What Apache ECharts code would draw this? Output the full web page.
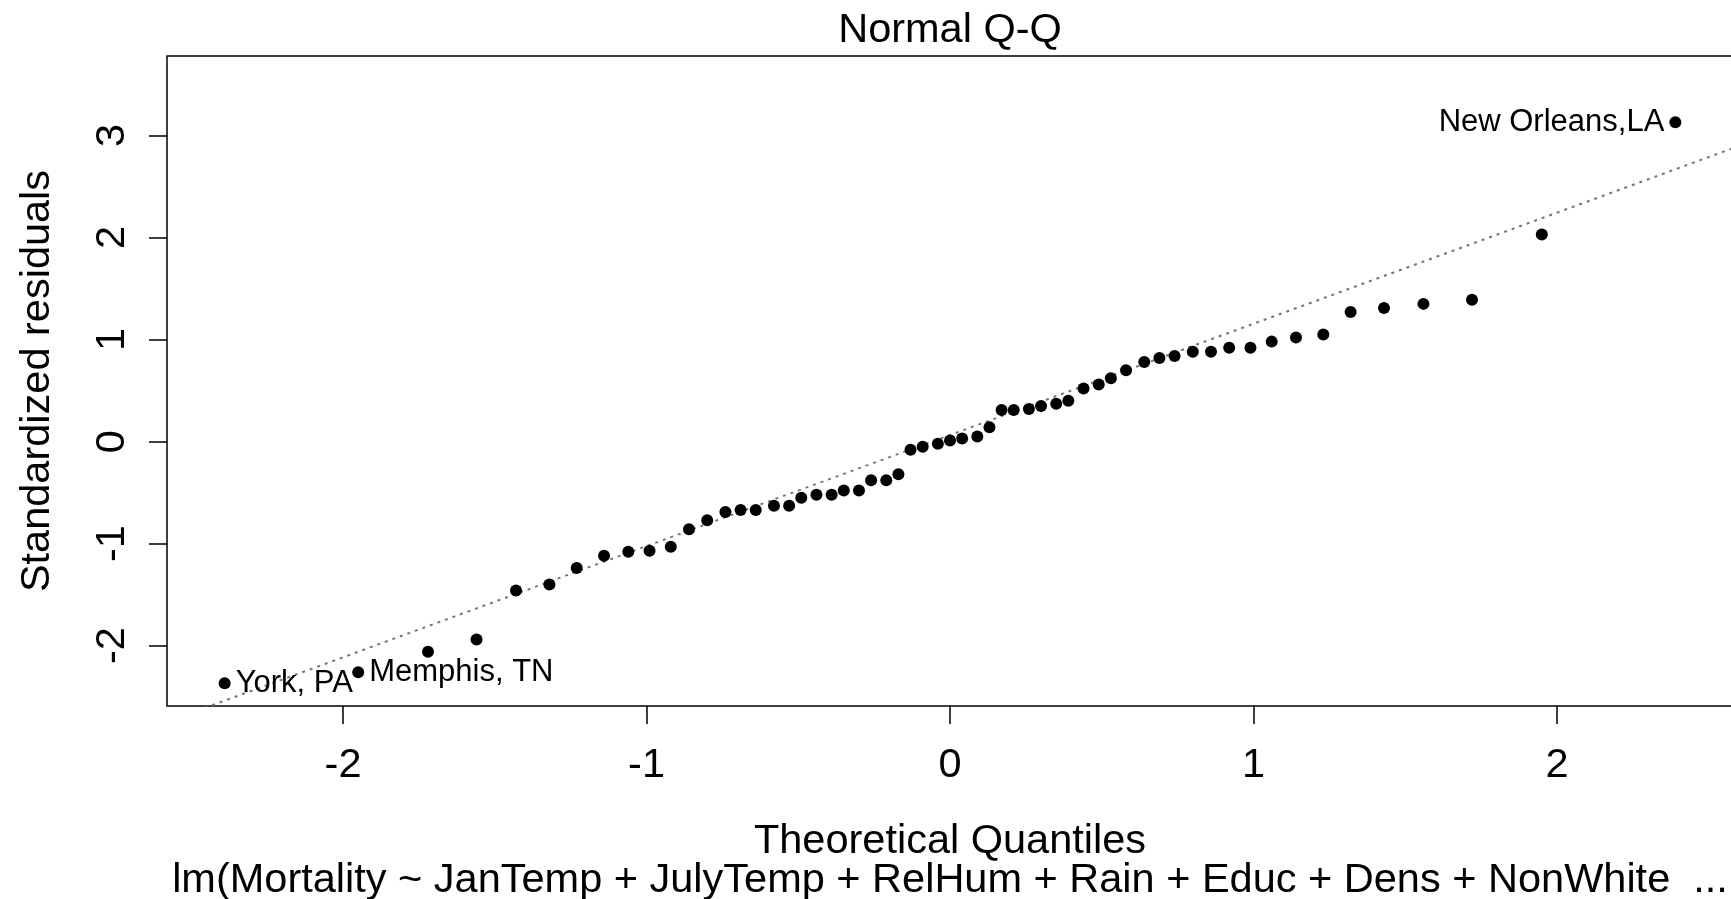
<!DOCTYPE html>
<html>
<head>
<meta charset="utf-8">
<title>Normal Q-Q</title>
<script src="https://cdn.jsdelivr.net/npm/echarts@6/dist/echarts.min.js"></script>
<style>
  html, body { margin: 0; padding: 0; background: #fff; }
  #chart { width: 1731px; height: 899px; }
</style>
</head>
<body>
<div id="chart"></div>
<script>
// Theoretical normal quantiles (x) and sorted standardized residuals (y), 59 cities
const theoQuantiles = [
  -2.39, -1.95, -1.72, -1.56, -1.43, -1.32, -1.23, -1.14, -1.06, -0.99,
  -0.92, -0.86, -0.80, -0.74, -0.69, -0.64, -0.58, -0.53, -0.49, -0.44,
  -0.39, -0.35, -0.30, -0.26, -0.21, -0.17, -0.13, -0.09, -0.04, 0.00,
   0.04,  0.09,  0.13,  0.17,  0.21,  0.26,  0.30,  0.35,  0.39,  0.44,
   0.49,  0.53,  0.58,  0.64,  0.69,  0.74,  0.80,  0.86,  0.92,  0.99,
   1.06,  1.14,  1.23,  1.32,  1.43,  1.56,  1.72,  1.95,  2.39
];
const stdResiduals = [
  -2.37, -2.26, -2.06, -1.94, -1.46, -1.40, -1.24, -1.12, -1.08, -1.07,
  -1.03, -0.86, -0.77, -0.69, -0.67, -0.67, -0.63, -0.63, -0.55, -0.52,
  -0.52, -0.48, -0.48, -0.38, -0.38, -0.32, -0.08, -0.05, -0.02,  0.01,
   0.03,  0.05,  0.14,  0.31,  0.31,  0.32,  0.35,  0.37,  0.40,  0.52,
   0.56,  0.62,  0.70,  0.78,  0.82,  0.84,  0.88,  0.88,  0.92,  0.92,
   0.98,  1.02,  1.05,  1.27,  1.31,  1.35,  1.39,  2.03,  3.13
];
// Identified extreme observations
const labelIndex = [0, 1, 58];
const labelText = ['York, PA', 'Memphis, TN', 'New Orleans,LA'];

const xTicks = [-2, -1, 0, 1, 2];
const yTicks = [-2, -1, 0, 1, 2, 3];
const xRange = [-2.58, 2.58];
const yRange = [-2.592, 3.78];

const mainTitle = 'Normal Q-Q';
const xName = 'Theoretical Quantiles';
const yName = 'Standardized residuals';
const subCaption = 'lm(Mortality ~ JanTemp + JulyTemp + RelHum + Rain + Educ + Dens + NonWhite  ...';

// Reference line through the first and third quartiles (qqline)
function quantile7(sorted, p) {
  const h = (sorted.length - 1) * p;
  const lo = Math.floor(h);
  const hi = Math.min(lo + 1, sorted.length - 1);
  return sorted[lo] + (h - lo) * (sorted[hi] - sorted[lo]);
}
const zq = 0.6744898; // standard normal upper quartile
const sorted = stdResiduals.slice().sort((a, b) => a - b);
const q1 = quantile7(sorted, 0.25), q3 = quantile7(sorted, 0.75);
const slope = (q3 - q1) / (2 * zq);
const intercept = q1 + slope * zq;
const qqLineData = [
  [xRange[0], intercept + slope * xRange[0]],
  [xRange[1], intercept + slope * xRange[1]]
];

const FONT = "'Liberation Sans', Arial, Helvetica, sans-serif";
const BASE = 41.5;

const points = theoQuantiles.map((x, i) => {
  const k = labelIndex.indexOf(i);
  const item = { value: [x, stdResiduals[i]] };
  if (k >= 0) {
    item.label = {
      show: true,
      formatter: labelText[k],
      position: x > 0 ? 'left' : 'right'
    };
  }
  return item;
});

const grid = { left: 167, top: 56, width: 1566, height: 650 };
const plotCenterX = grid.left + (1731 - grid.left) / 2 + 1;

const chart = echarts.init(document.getElementById('chart'));
chart.setOption({
  animation: false,
  backgroundColor: '#fff',
  textStyle: { fontFamily: FONT, color: '#000' },
  grid: Object.assign({
    show: true,
    borderColor: '#000',
    borderWidth: 1.5,
    backgroundColor: 'transparent',
    containLabel: false,
    outerBoundsMode: 'none'
  }, grid),
  xAxis: {
    type: 'value',
    min: xRange[0],
    max: xRange[1],
    name: xName,
    nameLocation: 'middle',
    nameGap: 115,
    nameTextStyle: { fontSize: BASE, fontFamily: FONT, color: '#000' },
    axisLine: { show: false, onZero: false },
    axisTick: {
      show: true, length: 18, inside: false,
      customValues: xTicks,
      lineStyle: { color: '#000', width: 1.5 }
    },
    axisLabel: {
      show: true, margin: 39, fontSize: BASE, fontFamily: FONT, color: '#000',
      customValues: xTicks,
      formatter: v => String(v)
    },
    splitLine: { show: false }
  },
  yAxis: {
    type: 'value',
    min: yRange[0],
    max: yRange[1],
    name: yName,
    nameLocation: 'middle',
    nameGap: 108,
    nameRotate: 90,
    nameTextStyle: { fontSize: BASE, fontFamily: FONT, color: '#000' },
    axisLine: { show: false, onZero: false },
    axisTick: {
      show: true, length: 18, inside: false,
      customValues: yTicks,
      lineStyle: { color: '#000', width: 1.5 }
    },
    axisLabel: {
      show: true, rotate: 90, margin: 33, fontSize: BASE, fontFamily: FONT, color: '#000',
      customValues: yTicks,
      formatter: v => String(v)
    },
    splitLine: { show: false }
  },
  graphic: [
    {
      type: 'text', x: plotCenterX, y: 10, silent: true,
      style: {
        text: mainTitle, fontSize: BASE, fontFamily: FONT, fill: '#000',
        align: 'center', verticalAlign: 'top'
      }
    },
    {
      type: 'text', x: plotCenterX, y: 860, silent: true,
      style: {
        text: subCaption, fontSize: BASE, fontFamily: FONT, fill: '#000',
        align: 'center', verticalAlign: 'top'
      }
    }
  ],
  series: [
    {
      type: 'line',
      data: qqLineData,
      clip: true,
      showSymbol: false,
      symbol: 'none',
      silent: true,
      z: 1,
      lineStyle: { color: '#777', width: 2, type: [3, 5] }
    },
    {
      type: 'scatter',
      data: points,
      symbol: 'circle',
      symbolSize: 12,
      z: 2,
      itemStyle: { color: '#000', opacity: 1 },
      label: {
        show: false,
        fontSize: 31,
        fontFamily: FONT,
        color: '#000',
        opacity: 1,
        distance: 5
      }
    }
  ]
});
</script>
</body>
</html>
